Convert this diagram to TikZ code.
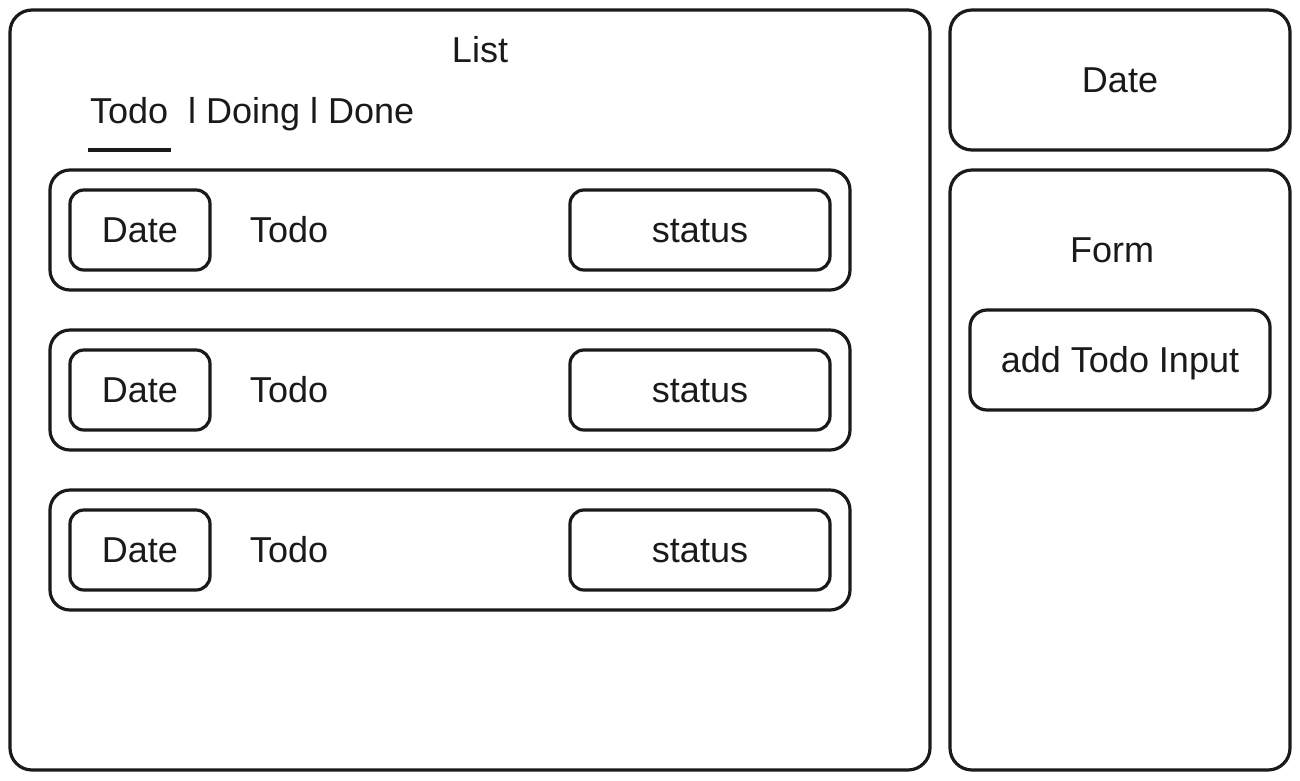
\documentclass[tikz,border=0pt]{standalone}
\usepackage{fontspec}
\setmainfont{Liberation Sans}
\definecolor{ink}{HTML}{1A1A1A}
\begin{document}
\begin{tikzpicture}[x=1pt,y=-1pt,
  every node/.style={font=\fontsize{36}{42}\selectfont, text=ink, inner sep=0pt, outer sep=0pt},
  panel/.style={draw=ink, line width=3.2pt, rounded corners=22pt, anchor=north west},
  rowbox/.style={draw=ink, line width=3.2pt, rounded corners=20pt, anchor=north west, minimum width=800pt, minimum height=120pt},
  smallbox/.style={draw=ink, line width=3.2pt, rounded corners=14pt, anchor=north west, minimum height=80pt},
  label/.style={anchor=center, text height=25.8pt, text depth=0pt}
]
\useasboundingbox (0,0) rectangle (1300,780);
\fill[white] (0,0) rectangle (1300,780);

% main panels
\node[panel, minimum width=920pt, minimum height=760pt] (list) at (10,10) {};
\node[panel, minimum width=340pt, minimum height=140pt] (datepanel) at (950,10) {};
\node[panel, minimum width=340pt, minimum height=600pt] (formpanel) at (950,170) {};

% panel texts
\node[label] (listlbl) at (480,50) {List};
\node[anchor=base west] (tabs) at (90,123) {Todo\ \ l Doing l Done};
\coordinate (ulA) at (88,150);
\coordinate (ulB) at (171,150);
\draw[ink, line width=4pt] (ulA) -- (ulB);

\node[label] (datelbl) at (1120,80) {Date};
\node[label] (formlbl) at (1112,250) {Form};
\node[draw=ink, line width=3.2pt, rounded corners=17pt, anchor=north west, minimum width=300pt, minimum height=100pt] (input) at (970,310) {};
\node[label] (inputlbl) at (input.center) {add Todo Input};

% rows
\foreach \i/\y in {1/170, 2/330, 3/490} {
  \node[rowbox] (row\i) at (50,\y) {};
  \node[smallbox, minimum width=140pt] (date\i) at (70,\y+20) {};
  \node[label] (datetxt\i) at (date\i.center) {Date};
  \node[label] (todo\i) at (289,\y+60) {Todo};
  \node[smallbox, minimum width=260pt] (status\i) at (570,\y+20) {};
  \node[label] (statustxt\i) at (status\i.center) {status};
}
\end{tikzpicture}
\end{document}
